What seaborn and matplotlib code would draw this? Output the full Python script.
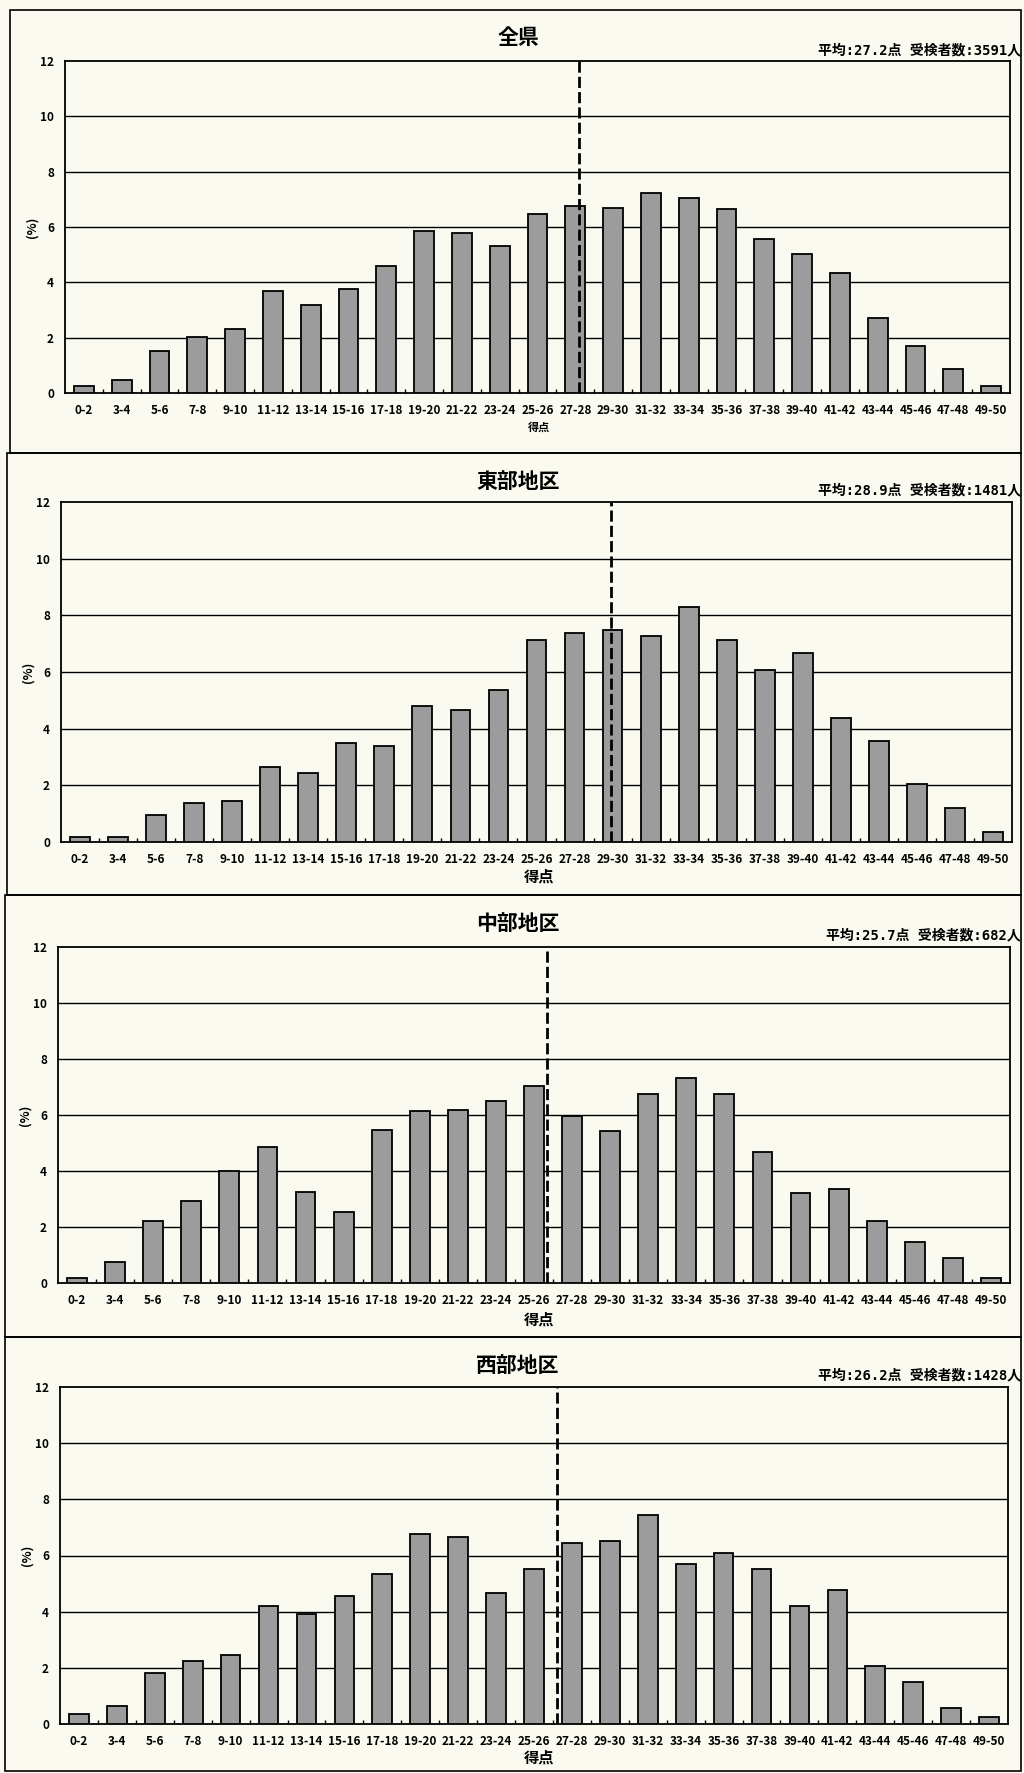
import matplotlib
matplotlib.use('Agg')
import matplotlib.pyplot as plt
import seaborn as sns
import pandas as pd
from matplotlib.patches import Rectangle

categories = ['0-2', '3-4', '5-6', '7-8', '9-10', '11-12', '13-14', '15-16',
              '17-18', '19-20', '21-22', '23-24', '25-26', '27-28', '29-30',
              '31-32', '33-34', '35-36', '37-38', '39-40', '41-42', '43-44',
              '45-46', '47-48', '49-50']

titles = ['全県', '東部地区', '中部地区', '西部地区']
means = [27.2, 28.9, 25.7, 26.2]
examinees = [3591, 1481, 682, 1428]

zenken = [0.24, 0.48, 1.53, 2.01, 2.31, 3.69, 3.19, 3.76, 4.58, 5.84, 5.78, 5.30,
          6.47, 6.76, 6.69, 7.22, 7.06, 6.65, 5.58, 5.04, 4.33, 2.71, 1.70, 0.88, 0.24]
tobu = [0.19, 0.19, 0.94, 1.36, 1.43, 2.64, 2.44, 3.51, 3.40, 4.81, 4.67, 5.37,
        7.12, 7.39, 7.48, 7.26, 8.29, 7.13, 6.06, 6.67, 4.37, 3.56, 2.04, 1.21, 0.35]
chubu = [0.17, 0.74, 2.21, 2.93, 3.99, 4.86, 3.24, 2.52, 5.45, 6.16, 6.19, 6.50,
         7.02, 5.98, 5.42, 6.75, 7.32, 6.75, 4.69, 3.23, 3.37, 2.20, 1.46, 0.89, 0.17]
seibu = [0.36, 0.64, 1.83, 2.26, 2.47, 4.20, 3.93, 4.56, 5.33, 6.75, 6.67, 4.66,
         5.51, 6.44, 6.51, 7.43, 5.68, 6.08, 5.52, 4.19, 4.76, 2.08, 1.48, 0.57, 0.24]
series = [zenken, tobu, chubu, seibu]

y_ticks = [0, 2, 4, 6, 8, 10, 12]

plt.rcParams['font.family'] = ['Noto Sans CJK JP', 'DejaVu Sans']

W, H = 1024, 1773
BG = '#fbfaf1'
fig = plt.figure(figsize=(W / 100, H / 100), dpi=100, facecolor=BG)

# layout in pixels: (left, right, top, bottom) of plot area
axes_px = [(65, 1010, 61, 393), (61, 1012, 502, 842),
           (58, 1010, 947, 1283), (60, 1008, 1387, 1724)]
frames_px = [(10, 1021, 10, 453), (7, 1021, 453, 895),
             (5, 1021, 895, 1337), (5, 1021, 1337, 1771)]
title_y = [37, 482, 923, 1365]
annot_y = [50, 490, 935, 1375]
xlabel_y = [427, 877, 1320, 1758]
xlabel_size = [8, 11, 11, 11]

for i in range(4):
    l, r, t, b = axes_px[i]
    ax = fig.add_axes([l / W, 1 - b / H, (r - l) / W, (b - t) / H])
    ax.set_facecolor(BG)
    df = pd.DataFrame({'score': categories, 'pct': series[i]})
    sns.barplot(data=df, x='score', y='pct', ax=ax, color='#9c9c9c',
                saturation=1, edgecolor='black', linewidth=1.3, width=0.52, zorder=3)
    ax.set_xlim(-0.5, len(categories) - 0.5)
    ax.set_ylim(0, 12)
    ax.set_yticks(y_ticks)
    ax.set_yticklabels([str(v) for v in y_ticks], fontsize=8.5, fontweight='bold')
    ax.set_xticks(range(len(categories)))
    ax.set_xticklabels(categories, fontsize=8.5, fontweight='bold')
    ax.tick_params(axis='both', length=0, pad=8)
    ax.set_xticks([k + 0.5 for k in range(len(categories) - 1)], minor=True)
    ax.tick_params(axis='x', which='minor', direction='in', length=3, width=1)
    for v in y_ticks[1:-1]:
        ax.axhline(v, color='black', lw=1.0, zorder=1)
    for s in ax.spines.values():
        s.set_color('black')
        s.set_linewidth(1.3)
    ax.set_xlabel('')
    ax.set_ylabel('(%)', fontsize=9, fontweight='bold', labelpad=1)
    ax.vlines(means[i] / 2 - 0.5, 0, 12, colors='black', lw=2,
              linestyles=(0, (4, 1.5)), zorder=4)

    fl, fr, ft, fb = frames_px[i]
    fig.add_artist(Rectangle((fl / W, 1 - fb / H), (fr - fl) / W, (fb - ft) / H,
                             transform=fig.transFigure, fill=False,
                             edgecolor='black', lw=1.2))
    fig.text(518 / W, 1 - title_y[i] / H, titles[i], ha='center', va='center',
             fontsize=15, fontweight='bold')
    fig.text(1021 / W, 1 - annot_y[i] / H,
             f'平均:{means[i]:.1f}点 受検者数:{examinees[i]}人',
             ha='right', va='center', fontsize=10, fontweight='bold',
             family=['DejaVu Sans Mono', 'Noto Sans CJK JP'])
    fig.text(539 / W, 1 - xlabel_y[i] / H, '得点', ha='center', va='center',
             fontsize=xlabel_size[i], fontweight='bold')

fig.savefig('out.png', dpi=100, facecolor=BG)
